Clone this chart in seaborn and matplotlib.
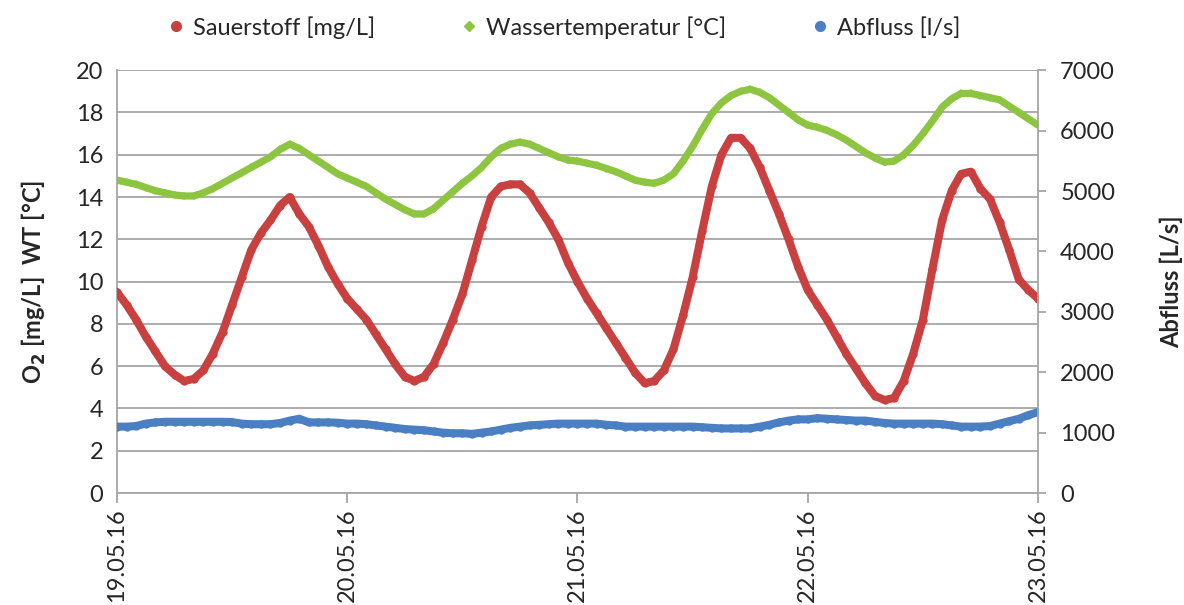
import pandas as pd
import matplotlib
matplotlib.use("Agg")
import matplotlib.pyplot as plt
from matplotlib.lines import Line2D
import seaborn as sns

# Messzeitpunkte: Stunden ab 19.05.16 00:00 (stuendlich, 19.05. - 23.05.)
hours = list(range(97))

sauerstoff = [9.5, 8.9, 8.2, 7.4, 6.7, 6.0, 5.6, 5.3, 5.4, 5.8, 6.6, 7.6,
              8.9, 10.2, 11.5, 12.3, 12.9, 13.6, 14.0, 13.2, 12.6, 11.7, 10.7, 9.9,
              9.2, 8.7, 8.2, 7.5, 6.8, 6.1, 5.5, 5.3, 5.5, 6.1, 7.1, 8.2,
              9.4, 11.0, 12.6, 14.0, 14.5, 14.6, 14.6, 14.2, 13.5, 12.8, 12.0, 10.9,
              10.0, 9.2, 8.5, 7.8, 7.1, 6.4, 5.7, 5.2, 5.3, 5.8, 6.8, 8.4,
              10.2, 12.4, 14.5, 16.0, 16.8, 16.8, 16.3, 15.4, 14.3, 13.2, 12.0, 10.7,
              9.6, 8.9, 8.2, 7.4, 6.6, 5.9, 5.2, 4.6, 4.4, 4.5, 5.3, 6.6,
              8.2, 10.6, 12.9, 14.3, 15.1, 15.2, 14.4, 13.9, 12.8, 11.5, 10.1, 9.6,
              9.2]

wassertemp = [14.8, 14.7, 14.6, 14.45, 14.3, 14.2, 14.1, 14.05, 14.05, 14.2, 14.4, 14.65,
              14.9, 15.15, 15.4, 15.65, 15.9, 16.25, 16.5, 16.3, 16.0, 15.7, 15.4, 15.1,
              14.9, 14.7, 14.5, 14.2, 13.9, 13.65, 13.4, 13.2, 13.2, 13.45, 13.85, 14.25,
              14.65, 15.0, 15.4, 15.9, 16.3, 16.5, 16.6, 16.5, 16.3, 16.1, 15.9, 15.75,
              15.7, 15.6, 15.5, 15.35, 15.2, 15.0, 14.8, 14.7, 14.65, 14.8, 15.1, 15.7,
              16.4, 17.2, 17.95, 18.45, 18.8, 19.0, 19.1, 18.95, 18.7, 18.35, 18.0, 17.65,
              17.4, 17.3, 17.15, 16.95, 16.7, 16.4, 16.1, 15.85, 15.65, 15.7, 16.0, 16.45,
              17.0, 17.6, 18.25, 18.65, 18.9, 18.9, 18.8, 18.7, 18.6, 18.3, 18.0, 17.7,
              17.4]

abfluss = [1100, 1100, 1110, 1150, 1170, 1180, 1180, 1180, 1180, 1180, 1180, 1180,
           1175, 1150, 1140, 1140, 1140, 1160, 1200, 1230, 1170, 1170, 1170, 1165,
           1150, 1150, 1140, 1120, 1100, 1080, 1060, 1050, 1040, 1020, 1000, 990,
           990, 980, 1000, 1020, 1050, 1080, 1100, 1120, 1130, 1140, 1150, 1150,
           1150, 1150, 1150, 1130, 1120, 1100, 1100, 1100, 1100, 1100, 1100, 1100,
           1100, 1090, 1080, 1070, 1070, 1070, 1070, 1100, 1130, 1170, 1200, 1220,
           1220, 1240, 1230, 1220, 1210, 1200, 1200, 1180, 1160, 1150, 1150, 1150,
           1150, 1150, 1140, 1120, 1100, 1100, 1100, 1110, 1150, 1190, 1230, 1290,
           1340]

date_labels = ["19.05.16", "20.05.16", "21.05.16", "22.05.16", "23.05.16"]

start = pd.Timestamp("2016-05-19")
df = pd.DataFrame({
    "zeit": start + pd.to_timedelta(hours, unit="h"),
    "o2": sauerstoff,
    "wt": wassertemp,
    "q": abfluss,
})

c_red = "#c8403f"
c_green = "#8dc540"
c_blue = "#4a7fc3"
c_grid = "#a6a6a6"

sns.set_style("white")
plt.rcParams["font.family"] = ["Lato", "DejaVu Sans"]

fig = plt.figure(figsize=(11.84, 6.05), dpi=100)
ax = fig.add_axes([0.0988, 0.185, 0.7779, 0.699])
ax2 = ax.twinx()

sns.lineplot(data=df, x="zeit", y="wt", ax=ax, color=c_green, linewidth=5.2,
             marker="D", markersize=4, markeredgewidth=0, zorder=3)
sns.lineplot(data=df, x="zeit", y="o2", ax=ax, color=c_red, linewidth=5.8,
             marker="o", markersize=6, markeredgewidth=0, zorder=4)
sns.lineplot(data=df, x="zeit", y="q", ax=ax2, color=c_blue, linewidth=5.8,
             marker="o", markersize=6, markeredgewidth=0)

ax.set_ylim(0, 20)
ax.set_yticks(range(0, 21, 2))
ax2.set_ylim(0, 7000)
ax2.set_yticks(range(0, 7001, 1000))
ax.set_xlim(start, start + pd.Timedelta(days=4))
ax.set_xticks(pd.date_range(start, periods=5, freq="D"))
ax.set_xticklabels(date_labels, rotation=90)

ax.grid(axis="y", color=c_grid, linewidth=1.3)
ax.set_axisbelow(True)

for a in (ax, ax2):
    for s in a.spines.values():
        s.set_visible(False)
ax.spines["left"].set_visible(True)
ax.spines["bottom"].set_visible(True)
ax2.spines["right"].set_visible(True)
for s in (ax.spines["left"], ax.spines["bottom"], ax2.spines["right"]):
    s.set_color(c_grid)
    s.set_linewidth(1.3)

ax.tick_params(axis="x", direction="out", length=7, color=c_grid, width=1.3,
               labelsize=17, pad=4, bottom=True)
ax.tick_params(axis="y", length=0, labelsize=17, pad=10)
ax2.tick_params(axis="y", direction="out", length=6, color=c_grid, width=1.3,
                labelsize=17, pad=10, right=True)

ax.set_xlabel("")
ax.set_ylabel("O$_\\mathbf{2}$ [mg/L]  WT [°C]", fontsize=17, fontweight="bold", labelpad=20)
ax2.set_ylabel("Abfluss [L/s]", fontsize=17, fontweight="bold", labelpad=32)

handles = [
    Line2D([], [], linestyle="none", marker="o", markersize=7, color=c_red),
    Line2D([], [], linestyle="none", marker="D", markersize=5, color=c_green),
    Line2D([], [], linestyle="none", marker="o", markersize=7, color=c_blue),
]
labels = ["Sauerstoff [mg/L]", "Wassertemperatur [°C]", "Abfluss [l/s]"]
fig.legend(handles, labels, loc="center", bbox_to_anchor=(0.475, 0.955), ncol=3,
           frameon=False, fontsize=17, handletextpad=0.2, columnspacing=3.5,
           handlelength=1.0)

fig.savefig("out.png", dpi=100)
